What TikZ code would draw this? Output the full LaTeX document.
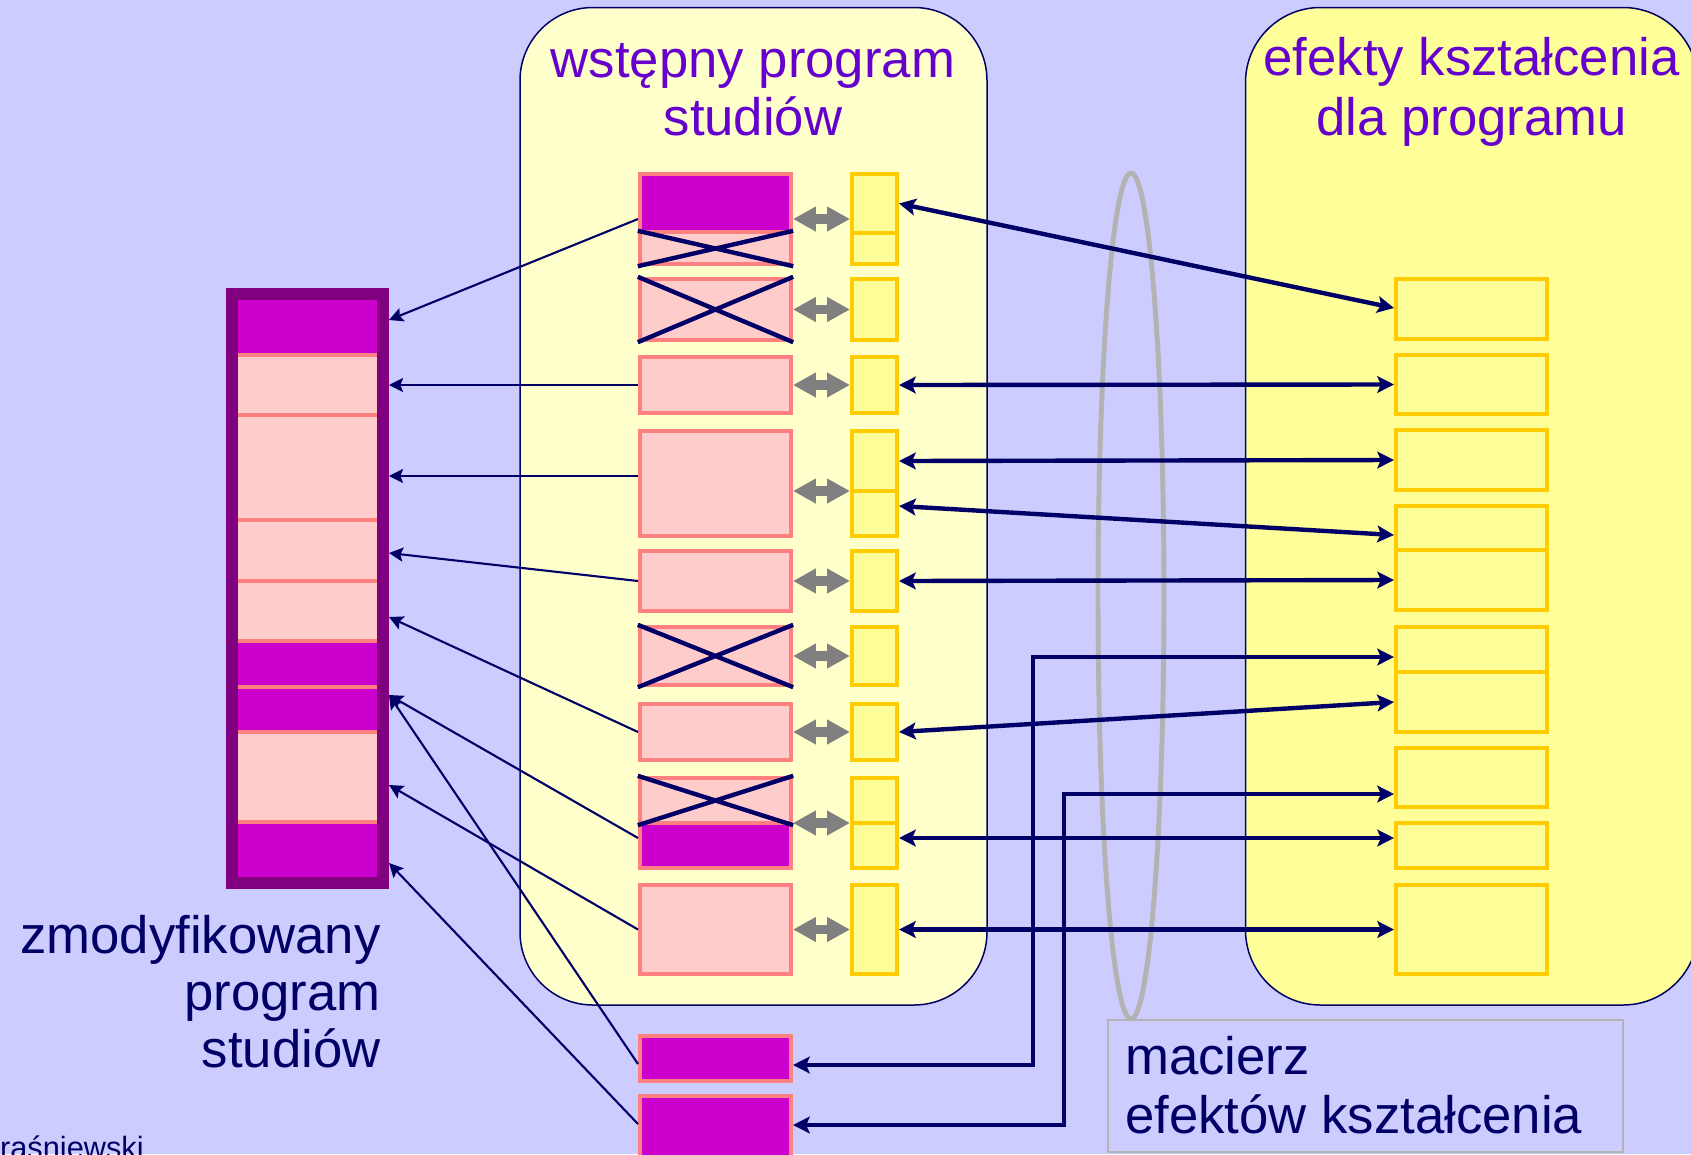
\documentclass[tikz,border=0pt]{standalone}
\usepackage{fontspec}
\setmainfont{Liberation Sans}
\usetikzlibrary{arrows.meta,fit,shapes.misc}
\definecolor{bg}{HTML}{CCCCFF}
\definecolor{midf}{HTML}{FFFFCC}
\definecolor{rightf}{HTML}{FFFF99}
\definecolor{navy}{HTML}{000066}
\definecolor{ttl}{HTML}{6600CC}
\definecolor{mag}{HTML}{CC00CC}
\definecolor{pinkf}{HTML}{FFCCCC}
\definecolor{pinkb}{HTML}{FF8080}
\definecolor{purp}{HTML}{800080}
\definecolor{gold}{HTML}{FFCC00}
\definecolor{yel}{HTML}{FFFF99}
\definecolor{garr}{HTML}{808080}
\definecolor{ell}{HTML}{B3B3B3}
\begin{document}
\begin{tikzpicture}[x=0.02cm,y=-0.02cm,
  pbox/.style={draw=pinkb, fill=pinkf, line width=2.27pt, inner sep=0pt},
  mbox/.style={draw=pinkb, fill=mag, line width=2.27pt, inner sep=0pt},
  ybox/.style={draw=gold, fill=yel, line width=2.27pt, inner sep=0pt},
  segp/.style={draw=pinkb, fill=pinkf, line width=2.27pt, inner sep=0pt},
  segm/.style={draw=pinkb, fill=mag, line width=2.27pt, inner sep=0pt},
  xout/.style={cross out, draw=navy, line width=2.5pt, inner sep=0pt},
  grayarr/.style={draw=garr, line width=5.67pt, {Triangle[length=13pt,width=13.3pt]}-{Triangle[length=13pt,width=13.3pt]}},
  thinarr/.style={draw=navy, line width=1.2pt, -{Stealth[length=8pt,width=8pt,inset=1.5pt]}},
  thickarr/.style={draw=navy, line width=2.5pt, {Stealth[length=9.5pt,width=9.5pt,inset=2pt]}-{Stealth[length=9.5pt,width=9.5pt,inset=2pt]}},
  bigtxt/.style={font=\fontsize{30pt}{31pt}\selectfont, inner sep=0pt},
]
\useasboundingbox (0,0) rectangle (1691,1154);
\fill[bg] (0,0) rectangle (1691,1154);

% rounded panels
\draw[navy, line width=0.85pt, fill=midf, rounded corners=1.46cm] (520,7.5) rectangle (987,1005);
\draw[navy, line width=0.85pt, fill=rightf, rounded corners=1.5cm] (1245.5,7.5) rectangle (1698,1005);

% titles
\node[bigtxt, text=ttl, anchor=base] (t1a) at (753,77) {wstępny program};
\node[bigtxt, text=ttl, anchor=base] (t1b) at (753,135) {studiów};
\node[bigtxt, text=ttl, anchor=base] (t2a) at (1471.5,75) {efekty kształcenia};
\node[bigtxt, text=ttl, anchor=base] (t2b) at (1471.5,135) {dla programu};

% left column segments
\node[segm, fit={(236,298) (379,354.7)}] (S1) {};
\node[segp, fit={(236,354.7) (379,414.5)}] (S2) {};
\node[segp, fit={(236,414.5) (379,520)}] (S3) {};
\node[segp, fit={(236,520) (379,581)}] (S4) {};
\node[segp, fit={(236,581) (379,641)}] (S5) {};
\node[segm, fit={(236,641) (379,686.5)}] (S6) {};
\node[segm, fit={(236,686.5) (379,731.5)}] (S7) {};
\node[segp, fit={(236,731.5) (379,822)}] (S8) {};
\node[segm, fit={(236,822) (379,879)}] (S9) {};
\node[draw=purp, line width=6.8pt, inner sep=0pt, fit={(232,294) (383,883)}] (COL) {};

% middle program boxes
\node[pbox, fit={(640,174) (791,264)}] (R1) {};
\node[mbox, fit={(640,174) (791,232)}] (R1m) {};
\node[xout, fit={(640,233) (791,264)}] (X1) {};
\node[pbox, fit={(640,279) (791,340)}] (R2) {};
\node[xout, fit={(640,279) (791,340)}] (X2) {};
\node[pbox, fit={(640,357) (791,413)}] (R3) {};
\node[pbox, fit={(640,431) (791,536)}] (R4) {};
\node[pbox, fit={(640,551) (791,611)}] (R5) {};
\node[pbox, fit={(640,627) (791,685)}] (R6) {};
\node[xout, fit={(640,627) (791,685)}] (X6) {};
\node[pbox, fit={(640,704) (791,760)}] (R7) {};
\node[pbox, fit={(640,778) (791,868)}] (R8) {};
\node[mbox, fit={(640,823) (791,868)}] (R8m) {};
\node[xout, fit={(640,778) (791,823)}] (X8) {};
\node[pbox, fit={(640,885) (791,974)}] (R9) {};
\node[mbox, fit={(640,1036) (791,1081)}] (M1) {};
\node[mbox, fit={(640,1096) (791,1178)}] (M2) {};

% small yellow boxes
\node[ybox, fit={(852,174) (897,233)}] (Y1a) {};
\node[ybox, fit={(852,233) (897,264)}] (Y1b) {};
\node[ybox, fit={(852,279) (897,340)}] (Y2) {};
\node[ybox, fit={(852,357) (897,413)}] (Y3) {};
\node[ybox, fit={(852,431) (897,491)}] (Y4a) {};
\node[ybox, fit={(852,491) (897,536)}] (Y4b) {};
\node[ybox, fit={(852,551) (897,611)}] (Y5) {};
\node[ybox, fit={(852,627) (897,685)}] (Y6) {};
\node[ybox, fit={(852,704) (897,760)}] (Y7) {};
\node[ybox, fit={(852,778) (897,823)}] (Y8a) {};
\node[ybox, fit={(852,823) (897,868)}] (Y8b) {};
\node[ybox, fit={(852,885) (897,974)}] (Y9) {};

% outcome boxes
\node[ybox, fit={(1396,279) (1547,339)}] (E1) {};
\node[ybox, fit={(1396,355) (1547,414)}] (E2) {};
\node[ybox, fit={(1396,430) (1547,490)}] (E3) {};
\node[ybox, fit={(1396,506) (1547,550)}] (E4a) {};
\node[ybox, fit={(1396,550) (1547,610)}] (E4b) {};
\node[ybox, fit={(1396,627) (1547,672)}] (E5a) {};
\node[ybox, fit={(1396,672) (1547,732)}] (E5b) {};
\node[ybox, fit={(1396,748) (1547,807)}] (E6) {};
\node[ybox, fit={(1396,823) (1547,868)}] (E7) {};
\node[ybox, fit={(1396,885) (1547,974)}] (E8) {};

% gray double arrows
\draw[grayarr] (R1.east |- 0,219) -- (Y1a.west |- 0,219);
\draw[grayarr] (R2.east) -- (Y2.west);
\draw[grayarr] (R3.east) -- (Y3.west);
\draw[grayarr] (R4.east |- 0,491) -- (Y4a.west |- 0,491);
\draw[grayarr] (R5.east) -- (Y5.west);
\draw[grayarr] (R6.east) -- (Y6.west);
\draw[grayarr] (R7.east) -- (Y7.west);
\draw[grayarr] (R8.east |- 0,823) -- (Y8a.west |- 0,823);
\draw[grayarr] (R9.east) -- (Y9.west);

% matrix ellipse
\draw[ell, line width=2.8pt] (1131,596) ellipse [x radius=0.66cm, y radius=8.46cm];

% macierz box
\node[draw=ell, line width=0.6pt, inner sep=0pt, fit={(1108,1020) (1623,1152)}] (MB) {};
\node[bigtxt, text=navy, anchor=base west] (mt1) at (1125,1074) {macierz};
\node[bigtxt, text=navy, anchor=base west] (mt2) at (1125,1133) {efektów kształcenia};

% thin arrows to the modified program
\draw[thinarr] (R1.west) -- (COL.east |- 0,320);
\draw[thinarr] (R3.west) -- (COL.east |- 0,385);
\draw[thinarr] (R4.west |- 0,476) -- (COL.east |- 0,476);
\draw[thinarr] (R5.west) -- (COL.east |- 0,553);
\draw[thinarr] (R7.west) -- (COL.east |- 0,617);
\draw[thinarr] (R8.west |- 0,838) -- (COL.east |- 0,695);
\draw[thinarr] (R9.west) -- (COL.east |- 0,785);
\draw[thinarr] (M1.west |- 0,1064) -- (COL.east |- 0,695);
\draw[thinarr] (M2.west |- 0,1124) -- (COL.east |- 0,863);

% thick matrix arrows
\draw[thickarr] (Y1a.east) -- (E1.west |- 0,308);
\draw[thickarr] (Y3.east) -- (E2.west);
\draw[thickarr] (Y4a.east) -- (E3.west);
\draw[thickarr] (Y4b.east |- 0,506) -- (E4a.west |- 0,535);
\draw[thickarr] (Y5.east) -- (E4b.west);
\draw[thickarr] (Y7.east) -- (E5b.west);
\draw[thickarr] (Y8b.east |- 0,838) -- (E7.west |- 0,838);
\draw[thickarr] (Y9.east) -- (E8.west);
\draw[thickarr] (M1.east |- 0,1065) -| (1033,657) -- (E5a.west |- 0,657);
\draw[thickarr] (M2.east |- 0,1125) -| (1064,794) -- (E6.west |- 0,794);

% left label
\node[bigtxt, text=navy, anchor=base east] (L1) at (381,953) {zmodyfikowany};
\node[bigtxt, text=navy, anchor=base east] (L2) at (381,1010) {program};
\node[bigtxt, text=navy, anchor=base east] (L3) at (381,1067) {studiów};

% author (cut off at the edge, as in the original)
\node[font=\fontsize{17.5pt}{20pt}\selectfont, text=navy, inner sep=0pt, anchor=base east] (AU) at (144,1158) {Kraśniewski};
\end{tikzpicture}
\end{document}
